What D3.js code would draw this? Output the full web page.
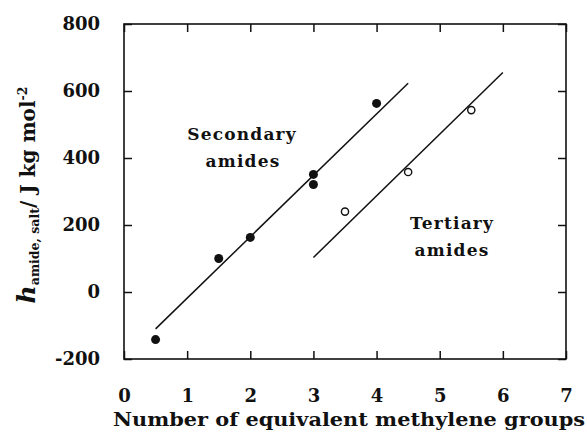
<!DOCTYPE html>
<html>
<head>
<meta charset="utf-8">
<script src="https://cdn.jsdelivr.net/npm/d3@7"></script>
<style>
  body { margin: 0; background: #fff; }
  svg text { font-family: "DejaVu Serif", serif; font-weight: bold; fill: #111; }
</style>
</head>
<body>
<div id="svgDiv" style="width:587px;height:433px"></div>
<script>
// data
var secondaryX = [0.5, 1.5, 2, 3, 3, 4];
var secondaryY = [-142, 100, 163, 351, 321, 563];
var tertiaryX = [3.5, 4.5, 5.5];
var tertiaryY = [240, 358, 543];
var secondaryFitX = [0.5, 4.5];
var secondaryFitY = [-110, 623];
var tertiaryFitX = [3, 6];
var tertiaryFitY = [103, 655];
var xTicks = [0, 1, 2, 3, 4, 5, 6, 7];
var yTicks = [-200, 0, 200, 400, 600, 800];

var svgWidth = 587, svgHeight = 433;
var mLeft = 124, mRight = 566, mTop = 24, mBottom = 359;

var svg = d3.select("#svgDiv").append("svg")
    .attr("width", svgWidth)
    .attr("height", svgHeight);

var xScale = d3.scaleLinear().domain([0, 7]).range([mLeft, mRight]);
var yScale = d3.scaleLinear().domain([-200, 800]).range([mBottom, mTop]);

// frame
svg.append("rect")
    .attr("x", mLeft).attr("y", mTop)
    .attr("width", mRight - mLeft).attr("height", mBottom - mTop)
    .attr("fill", "none").attr("stroke", "#111").attr("stroke-width", 1.6);

// inward ticks on all four sides
function tickStyle(g) {
    g.select(".domain").remove();
    g.selectAll(".tick line").attr("stroke", "#111").attr("stroke-width", 1.5);
}
svg.append("g").attr("transform", "translate(0," + mBottom + ")")
    .call(d3.axisTop(xScale).tickValues(xTicks).tickSize(8).tickFormat(""))
    .call(tickStyle);
svg.append("g").attr("transform", "translate(0," + mTop + ")")
    .call(d3.axisBottom(xScale).tickValues(xTicks).tickSize(8).tickFormat(""))
    .call(tickStyle);
svg.append("g").attr("transform", "translate(" + mLeft + ",0)")
    .call(d3.axisRight(yScale).tickValues(yTicks).tickSize(8).tickFormat(""))
    .call(tickStyle);
svg.append("g").attr("transform", "translate(" + mRight + ",0)")
    .call(d3.axisLeft(yScale).tickValues(yTicks).tickSize(8).tickFormat(""))
    .call(tickStyle);

// tick labels (plain hyphen for negatives, as in the figure)
var plain = d => String(d);
var xLab = svg.append("g").attr("transform", "translate(0," + mBottom + ")")
    .call(d3.axisBottom(xScale).tickValues(xTicks).tickSize(0).tickPadding(30).tickFormat(plain));
xLab.select(".domain").remove();
xLab.selectAll("text").attr("font-size", 18).attr("fill", "#111")
    .style("font-family", "DejaVu Serif").style("font-weight", "bold");

var yLab = svg.append("g").attr("transform", "translate(" + mLeft + ",0)")
    .call(d3.axisLeft(yScale).tickValues(yTicks).tickSize(0).tickPadding(24).tickFormat(plain));
yLab.select(".domain").remove();
yLab.selectAll("text").attr("font-size", 18).attr("fill", "#111")
    .style("font-family", "DejaVu Serif").style("font-weight", "bold");

// fit lines
var line = d3.line().x(d => xScale(d[0])).y(d => yScale(d[1]));
svg.append("path")
    .attr("d", line(d3.zip(secondaryFitX, secondaryFitY)))
    .attr("stroke", "#111").attr("stroke-width", 1.5).attr("fill", "none");
svg.append("path")
    .attr("d", line(d3.zip(tertiaryFitX, tertiaryFitY)))
    .attr("stroke", "#111").attr("stroke-width", 1.5).attr("fill", "none");

// points
svg.selectAll("circle.sec")
    .data(d3.zip(secondaryX, secondaryY))
    .enter().append("circle")
    .attr("class", "sec")
    .attr("cx", d => xScale(d[0]))
    .attr("cy", d => yScale(d[1]))
    .attr("r", 4.5)
    .attr("fill", "#111");
svg.selectAll("circle.ter")
    .data(d3.zip(tertiaryX, tertiaryY))
    .enter().append("circle")
    .attr("class", "ter")
    .attr("cx", d => xScale(d[0]))
    .attr("cy", d => yScale(d[1]))
    .attr("r", 3.6)
    .attr("fill", "#fff").attr("stroke", "#111").attr("stroke-width", 1.4);

// annotations
function note(x, y, t) {
    svg.append("text").attr("x", x).attr("y", y)
        .attr("text-anchor", "middle").attr("font-size", 17)
        .attr("letter-spacing", 1.2).text(t);
}
note(242, 140, "Secondary");
note(243, 167, "amides");
note(452, 229, "Tertiary");
note(452, 256, "amides");

// axis titles
svg.append("text")
    .attr("x", 113).attr("y", 426)
    .attr("font-size", 19)
    .attr("textLength", 472).attr("lengthAdjust", "spacingAndGlyphs")
    .text("Number of equivalent methylene groups");

var yt = svg.append("text")
    .attr("transform", "translate(35,195) rotate(-90)")
    .attr("text-anchor", "middle").attr("font-size", 20);
yt.append("tspan").attr("font-style", "italic").attr("font-size", 25).text("h");
yt.append("tspan").attr("font-size", 12.5).attr("dy", 4).text("amide, salt");
yt.append("tspan").attr("dy", -4).text("/ J kg mol");
yt.append("tspan").attr("font-size", 12.5).attr("dy", -8).text("-2");
</script>
</body>
</html>
